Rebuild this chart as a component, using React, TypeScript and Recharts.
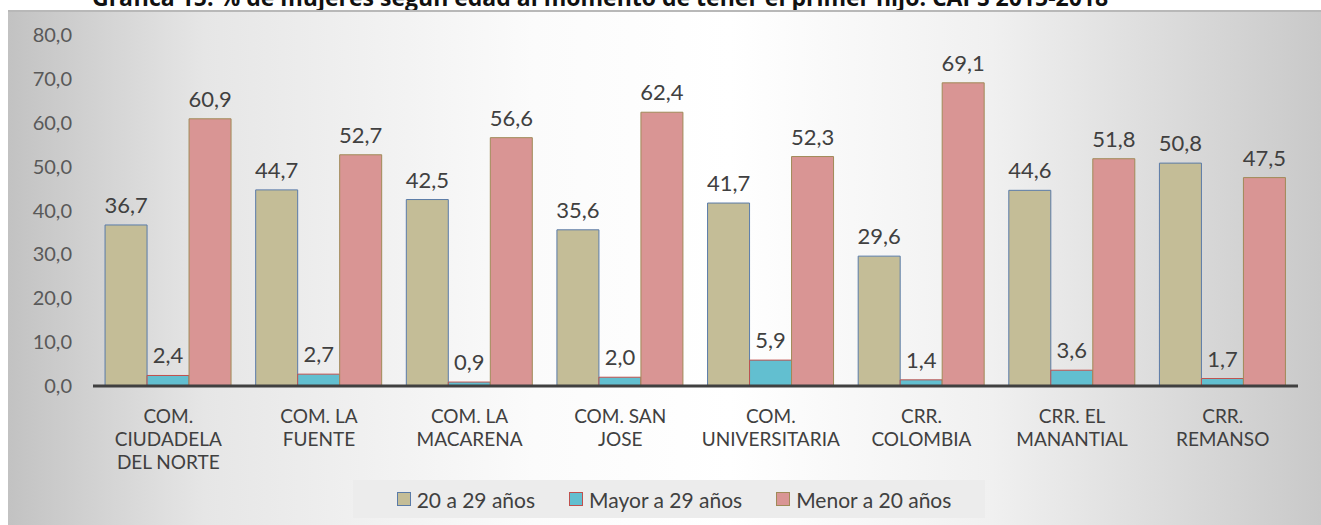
import React from "react";
import { BarChart, Bar, XAxis, YAxis, LabelList } from "recharts";

const categories = [
  "COM.\nCIUDADELA\nDEL NORTE",
  "COM. LA\nFUENTE",
  "COM. LA\nMACARENA",
  "COM. SAN\nJOSE",
  "COM.\nUNIVERSITARIA",
  "CRR.\nCOLOMBIA",
  "CRR. EL\nMANANTIAL",
  "CRR.\nREMANSO",
];
const age20to29 = [36.7, 44.7, 42.5, 35.6, 41.7, 29.6, 44.6, 50.8];
const over29 = [2.4, 2.7, 0.9, 2.0, 5.9, 1.4, 3.6, 1.7];
const under20 = [60.9, 52.7, 56.6, 62.4, 52.3, 69.1, 51.8, 47.5];
const yTicks = [0, 10, 20, 30, 40, 50, 60, 70, 80];

const SERIES = [
  { key: "a", name: "20 a 29 años", fill: "#C4BD97", stroke: "#5A7BA8" },
  { key: "b", name: "Mayor a 29 años", fill: "#62BFD0", stroke: "#C0504D" },
  { key: "c", name: "Menor a 20 años", fill: "#D99594", stroke: "#A08A58" },
];

const data = categories.map((name, i) => ({
  name,
  a: age20to29[i],
  b: over29[i],
  c: under20[i],
}));

const FONT = "Lato, 'Noto Sans', sans-serif";
const fmt = (v: number) => v.toFixed(1).replace(".", ",");

function CategoryTick({ x, y, payload }: any) {
  const lines = String(payload.value).split("\n");
  return (
    <g transform={`translate(${x},${y})`}>
      {lines.map((line, i) => (
        <text
          key={i}
          x={0}
          y={24 + i * 23}
          textAnchor="middle"
          dominantBaseline="middle"
          fontSize={19}
          fontFamily={FONT}
          fill="#404040"
        >
          {line}
        </text>
      ))}
    </g>
  );
}

export default function App() {
  return (
    <div
      style={{
        position: "absolute",
        left: 0,
        top: 0,
        width: 1321,
        height: 525,
        overflow: "hidden",
        background: "#fff",
      }}
    >
      <div
        style={{
          position: "absolute",
          left: 92,
          top: -19,
          whiteSpace: "nowrap",
          fontFamily: "'Open Sans', sans-serif",
          fontWeight: 700,
          fontSize: 23,
          color: "#111",
        }}
      >
        Gráfica 15. % de mujeres según edad al momento de tener el primer hijo. CAPS 2015-2018
      </div>
      <div
        style={{
          position: "absolute",
          left: 8,
          top: 10,
          width: 1313,
          height: 515,
          borderTop: "2px solid #b8b8b8",
          boxSizing: "border-box",
          background:
            "linear-gradient(90deg, #c2c2c2 0%, #e6e6e6 15%, #fbfbfb 40%, #ffffff 55%, #f0f0f0 75%, #c9c9c9 100%)",
        }}
      >
        <BarChart
          width={1313}
          height={513}
          data={data}
          margin={{ top: 23, right: 23, bottom: 59, left: 0 }}
          barCategoryGap="8%"
          barGap={0}
        >
          <YAxis
            domain={[0, 80]}
            ticks={yTicks}
            width={85}
            axisLine={false}
            tickLine={false}
            tickMargin={15}
            tickFormatter={fmt}
            tick={{ fontSize: 20, fill: "#595959", fontFamily: FONT }}
          />
          <XAxis
            dataKey="name"
            interval={0}
            axisLine={{ stroke: "#404040", strokeWidth: 3 }}
            tickLine={false}
            height={80}
            tick={<CategoryTick />}
          />
          {SERIES.map((s) => (
            <Bar
              key={s.key}
              dataKey={s.key}
              name={s.name}
              fill={s.fill}
              stroke={s.stroke}
              strokeWidth={1}
              isAnimationActive={false}
            >
              <LabelList
                dataKey={s.key}
                position="top"
                offset={12}
                formatter={(v: any) => fmt(Number(v))}
                style={{ fontSize: 22, fill: "#404040", fontFamily: FONT }}
              />
            </Bar>
          ))}
        </BarChart>
        <div
          style={{
            position: "absolute",
            left: 345,
            top: 468,
            width: 632,
            height: 38,
            background: "#ececec",
            display: "flex",
            alignItems: "center",
            justifyContent: "center",
            gap: 34,
            paddingLeft: 10,
            boxSizing: "border-box",
            fontFamily: FONT,
            fontSize: 21,
            color: "#404040",
          }}
        >
          {SERIES.map((s) => (
            <div key={s.key} style={{ display: "flex", alignItems: "center", gap: 6 }}>
              <span
                style={{
                  width: 12,
                  height: 12,
                  background: s.fill,
                  border: `1px solid ${s.stroke}`,
                  display: "inline-block",
                }}
              />
              <span>{s.name}</span>
            </div>
          ))}
        </div>
      </div>
    </div>
  );
}
